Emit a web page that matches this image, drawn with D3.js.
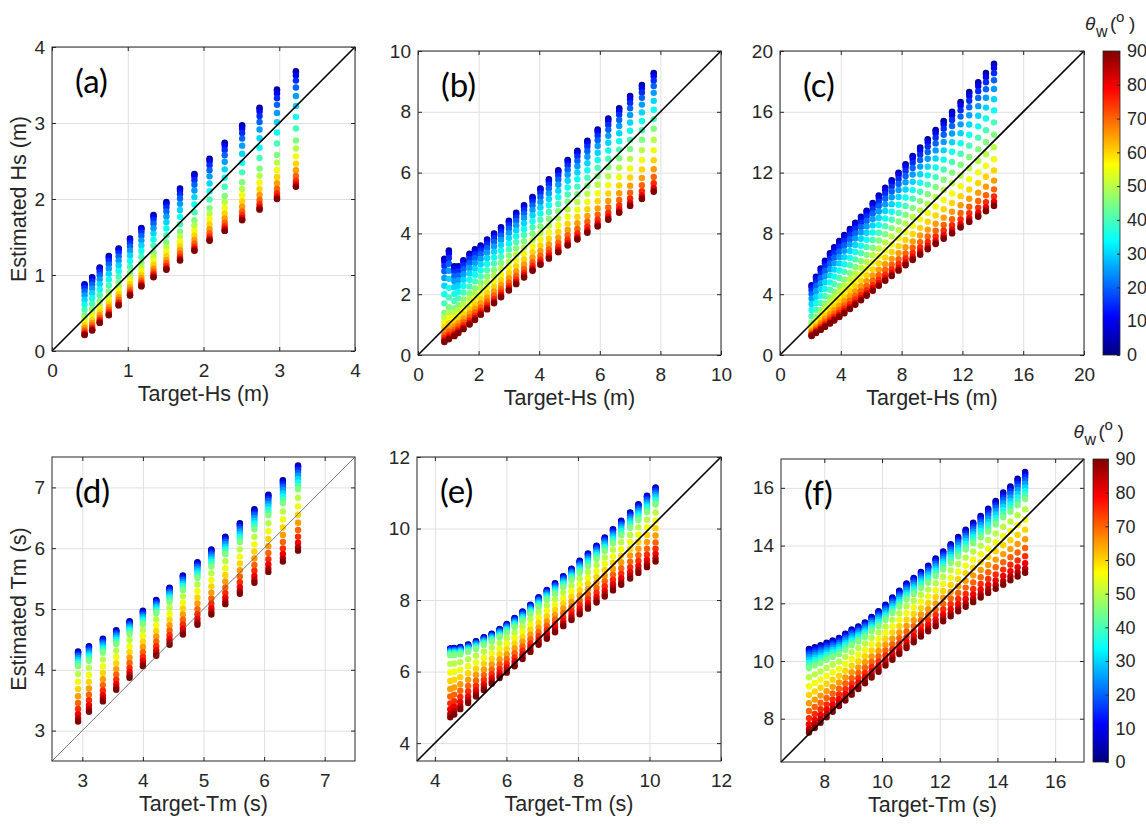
<!DOCTYPE html>
<html>
<head>
<meta charset="utf-8">
<script src="https://cdn.jsdelivr.net/npm/d3@7"></script>
<style>
body { margin: 0; background: #fff; }
</style>
</head>
<body>
<script>
// wave direction levels (deg): one dot per level in every column
const thetaLevels = [0, 5, 10, 15, 20, 25, 30, 35, 40, 45, 50, 55, 60, 65, 70, 75, 80, 85, 90];

// how the dots of one column are spread between top/mid and mid/bottom
const hsUpper = [1, 0.985, 0.94, 0.866, 0.766, 0.643, 0.5, 0.342, 0.174, 0];
const hsLower = [1, 0.826, 0.658, 0.5, 0.357, 0.234, 0.134, 0.06, 0.015, 0];
const tmUpper = [1, 0.96, 0.9, 0.81, 0.7, 0.57, 0.43, 0.29, 0.15, 0];
const tmLower = [1, 0.86, 0.72, 0.585, 0.455, 0.335, 0.225, 0.13, 0.055, 0];

// (a) Hs, small waves: target, estimate at 0 deg (top), 45 deg (mid), 90 deg (bottom)
const aTarget = [0.43, 0.53, 0.63, 0.75, 0.88, 1.03, 1.18, 1.34, 1.51, 1.69, 1.88, 2.08, 2.28, 2.51, 2.74, 2.97, 3.22];
const aTop    = [0.88, 0.97, 1.1, 1.25, 1.35, 1.48, 1.62, 1.79, 1.96, 2.14, 2.33, 2.53, 2.74, 2.97, 3.2, 3.44, 3.68];
const aMid    = [0.47, 0.55, 0.66, 0.78, 0.9, 1.03, 1.16, 1.3, 1.43, 1.57, 1.72, 1.88, 2.04, 2.22, 2.4, 2.58, 2.77];
const aBottom = [0.21, 0.27, 0.37, 0.47, 0.6, 0.73, 0.85, 0.97, 1.07, 1.19, 1.32, 1.45, 1.58, 1.72, 1.86, 2.0, 2.16];

// (b) Hs, medium waves
const bTarget = [0.87, 1.02, 1.2, 1.33, 1.5, 1.7, 1.88, 2.07, 2.28, 2.51, 2.74, 3.0, 3.24, 3.5, 3.78, 4.04, 4.32, 4.63, 4.94, 5.26, 5.59, 5.93, 6.28, 6.64, 7.0, 7.39, 7.78];
const bTop    = [3.17, 3.44, 2.92, 2.92, 3.12, 3.33, 3.48, 3.6, 3.8, 4.0, 4.2, 4.42, 4.68, 4.93, 5.2, 5.48, 5.78, 6.08, 6.42, 6.72, 7.05, 7.42, 7.78, 8.12, 8.52, 8.88, 9.28];
const bMid    = [1.39, 1.57, 1.54, 1.64, 1.83, 2.03, 2.2, 2.37, 2.58, 2.8, 3.03, 3.27, 3.51, 3.74, 3.99, 4.23, 4.48, 4.73, 5.04, 5.29, 5.57, 5.89, 6.18, 6.47, 6.78, 7.08, 7.44];
const bBottom = [0.43, 0.52, 0.62, 0.72, 0.85, 1.0, 1.15, 1.32, 1.5, 1.7, 1.9, 2.12, 2.33, 2.55, 2.77, 2.97, 3.17, 3.38, 3.6, 3.8, 4.02, 4.23, 4.45, 4.68, 4.9, 5.13, 5.37];

// (c) Hs, large waves
const cTarget = [2.08, 2.37, 2.68, 2.96, 3.29, 3.57, 3.9, 4.23, 4.6, 4.95, 5.33, 5.7, 6.1, 6.5, 6.92, 7.35, 7.8, 8.26, 8.73, 9.22, 9.72, 10.24, 10.77, 11.32, 11.88, 12.45, 13.04, 13.55, 14.08];
const cTop    = [4.6, 5.15, 5.7, 6.2, 6.7, 7.1, 7.5, 7.9, 8.3, 8.7, 9.1, 9.5, 10.0, 10.5, 11.0, 11.5, 12.0, 12.55, 13.1, 13.65, 14.2, 14.8, 15.4, 16.0, 16.65, 17.3, 17.95, 18.55, 19.17];
const cMid    = [2.12, 2.52, 2.95, 3.37, 3.78, 4.15, 4.55, 4.96, 5.4, 5.78, 6.19, 6.59, 7.05, 7.53, 7.94, 8.35, 8.78, 9.23, 9.68, 10.13, 10.58, 11.05, 11.53, 12.0, 12.52, 13.03, 13.53, 14.0, 14.49];
const cBottom = [1.25, 1.45, 1.65, 1.85, 2.07, 2.27, 2.5, 2.75, 3.02, 3.3, 3.6, 3.9, 4.22, 4.55, 4.88, 5.2, 5.55, 5.9, 6.25, 6.6, 6.95, 7.3, 7.65, 8.0, 8.38, 8.75, 9.1, 9.45, 9.8];

// (d) Tm, small waves
const dTarget = [2.93, 3.11, 3.34, 3.56, 3.78, 4.0, 4.22, 4.44, 4.66, 4.9, 5.13, 5.36, 5.6, 5.84, 6.07, 6.31, 6.56];
const dTop    = [4.3, 4.39, 4.51, 4.65, 4.8, 4.97, 5.15, 5.35, 5.55, 5.77, 5.98, 6.19, 6.41, 6.64, 6.88, 7.12, 7.36];
const dMid    = [4.06, 4.15, 4.28, 4.42, 4.59, 4.75, 4.93, 5.12, 5.31, 5.51, 5.7, 5.9, 6.1, 6.31, 6.54, 6.74, 6.97];
const dBottom = [3.15, 3.31, 3.48, 3.67, 3.87, 4.06, 4.23, 4.41, 4.58, 4.74, 4.91, 5.08, 5.25, 5.43, 5.61, 5.78, 5.96];

// (e) Tm, medium waves
const eTarget = [4.43, 4.54, 4.71, 4.93, 5.15, 5.37, 5.59, 5.81, 6.01, 6.23, 6.45, 6.67, 6.9, 7.13, 7.36, 7.59, 7.82, 8.05, 8.28, 8.52, 8.75, 8.98, 9.21, 9.46, 9.69, 9.93, 10.17];
const eTop    = [6.65, 6.66, 6.69, 6.76, 6.85, 6.96, 7.06, 7.19, 7.33, 7.5, 7.68, 7.87, 8.08, 8.28, 8.47, 8.67, 8.88, 9.1, 9.3, 9.52, 9.75, 9.98, 10.22, 10.45, 10.68, 10.92, 11.15];
const eMid    = [6.46, 6.46, 6.48, 6.55, 6.63, 6.74, 6.84, 6.96, 7.09, 7.24, 7.41, 7.61, 7.8, 8.0, 8.17, 8.36, 8.56, 8.76, 8.95, 9.15, 9.37, 9.59, 9.81, 10.02, 10.24, 10.46, 10.67];
const eBottom = [4.72, 4.8, 4.95, 5.12, 5.3, 5.48, 5.66, 5.82, 5.97, 6.15, 6.35, 6.55, 6.75, 6.92, 7.1, 7.27, 7.44, 7.6, 7.76, 7.93, 8.1, 8.27, 8.43, 8.6, 8.76, 8.92, 9.08];

// (f) Tm, large waves
const fTarget = [7.47, 7.67, 7.87, 8.08, 8.29, 8.51, 8.73, 8.95, 9.18, 9.41, 9.64, 9.88, 10.12, 10.36, 10.6, 10.85, 11.1, 11.35, 11.6, 11.86, 12.12, 12.38, 12.64, 12.9, 13.16, 13.42, 13.68, 13.94, 14.2, 14.45, 14.7, 14.96];
const fTop    = [10.42, 10.48, 10.55, 10.63, 10.71, 10.8, 10.95, 11.09, 11.2, 11.34, 11.53, 11.73, 11.95, 12.2, 12.44, 12.69, 12.88, 13.09, 13.3, 13.55, 13.8, 14.05, 14.3, 14.55, 14.79, 15.03, 15.28, 15.55, 15.84, 16.05, 16.32, 16.55];
const fMid    = [9.75, 9.84, 9.93, 10.04, 10.14, 10.23, 10.39, 10.55, 10.68, 10.83, 11.03, 11.21, 11.42, 11.66, 11.89, 12.13, 12.32, 12.53, 12.71, 12.94, 13.17, 13.4, 13.63, 13.86, 14.08, 14.29, 14.49, 14.73, 14.98, 15.17, 15.4, 15.61];
const fBottom = [7.52, 7.68, 7.86, 8.05, 8.24, 8.44, 8.63, 8.83, 9.03, 9.23, 9.43, 9.63, 9.84, 10.04, 10.24, 10.45, 10.65, 10.85, 11.03, 11.2, 11.38, 11.55, 11.72, 11.88, 12.04, 12.2, 12.36, 12.5, 12.64, 12.8, 12.93, 13.06];

// tick labels
const ticksA = [0, 1, 2, 3, 4];
const ticksB = [0, 2, 4, 6, 8, 10];
const ticksC = [0, 4, 8, 12, 16, 20];
const ticksD = [3, 4, 5, 6, 7];
const ticksE = [4, 6, 8, 10, 12];
const ticksF = [8, 10, 12, 14, 16];
const cbTicks = [0, 10, 20, 30, 40, 50, 60, 70, 80, 90];

const width = 1146;
const height = 824;
const font = "'Liberation Sans', Arial, sans-serif";
const ink = '#262626';
const plain = (d) => String(d);

const svg = d3.select('body').append('svg')
    .attr('width', width).attr('height', height)
    .style('font-family', font);

// MATLAB jet colormap
const jet = d3.scaleLinear()
    .domain([0, 11.25, 33.75, 56.25, 78.75, 90])
    .range(['#000080', '#0000ff', '#00ffff', '#ffff00', '#ff0000', '#800000'])
    .clamp(true);

const panels = [
  { target: aTarget, top: aTop, mid: aMid, bottom: aBottom, upper: hsUpper, lower: hsLower,
    dom: [0, 4], ticks: ticksA, x0: 52, x1: 355, y0: 47, y1: 351, letter: '(a)',
    xTitle: 'Target-Hs (m)', yTitle: 'Estimated Hs (m)', thin: false },
  { target: bTarget, top: bTop, mid: bMid, bottom: bBottom, upper: hsUpper, lower: hsLower,
    dom: [0, 10], ticks: ticksB, x0: 418, x1: 721, y0: 51, y1: 355, letter: '(b)',
    xTitle: 'Target-Hs (m)', yTitle: null, thin: false },
  { target: cTarget, top: cTop, mid: cMid, bottom: cBottom, upper: hsUpper, lower: hsLower,
    dom: [0, 20], ticks: ticksC, x0: 780, x1: 1084, y0: 51, y1: 355, letter: '(c)',
    xTitle: 'Target-Hs (m)', yTitle: null, thin: false },
  { target: dTarget, top: dTop, mid: dMid, bottom: dBottom, upper: tmUpper, lower: tmLower,
    dom: [2.5, 7.5], ticks: ticksD, x0: 52, x1: 355, y0: 457, y1: 761, letter: '(d)',
    xTitle: 'Target-Tm (s)', yTitle: 'Estimated Tm (s)', thin: true },
  { target: eTarget, top: eTop, mid: eMid, bottom: eBottom, upper: tmUpper, lower: tmLower,
    dom: [3.5, 12], ticks: ticksE, x0: 417, x1: 721, y0: 457, y1: 761, letter: '(e)',
    xTitle: 'Target-Tm (s)', yTitle: null, thin: false },
  { target: fTarget, top: fTop, mid: fMid, bottom: fBottom, upper: tmUpper, lower: tmLower,
    dom: [6.5, 17], ticks: ticksF, x0: 781, x1: 1084, y0: 459, y1: 762, letter: '(f)',
    xTitle: 'Target-Tm (s)', yTitle: null, thin: false }
];

// one dot per (column, direction)
function columnDots(p) {
  const dots = [];
  p.target.forEach((tx, i) => {
    thetaLevels.forEach((th, k) => {
      const est = k <= 9
        ? p.mid[i] + (p.top[i] - p.mid[i]) * p.upper[k]
        : p.bottom[i] + (p.mid[i] - p.bottom[i]) * p.lower[k - 9];
      dots.push({ tx, est, th });
    });
  });
  return dots;
}

function styleAxis(sel, size) {
  sel.attr('font-family', font).attr('font-size', size);
  sel.select('.domain').remove();
  sel.selectAll('line').attr('stroke', ink);
  sel.selectAll('text').attr('fill', ink);
}

panels.forEach((p) => {
  const g = svg.append('g');
  const xScale = d3.scaleLinear().domain(p.dom).range([p.x0, p.x1]);
  const yScale = d3.scaleLinear().domain(p.dom).range([p.y1, p.y0]);
  const w = p.x1 - p.x0, h = p.y1 - p.y0;

  // grid
  const gx = g.append('g').attr('transform', `translate(0,${p.y1})`)
      .call(d3.axisBottom(xScale).tickValues(p.ticks).tickSize(-h).tickFormat(''));
  const gy = g.append('g').attr('transform', `translate(${p.x0},0)`)
      .call(d3.axisLeft(yScale).tickValues(p.ticks).tickSize(-w).tickFormat(''));
  [gx, gy].forEach((s) => {
    s.select('.domain').remove();
    s.selectAll('line').attr('stroke', '#e0e0e0').attr('stroke-width', 1);
  });

  // dots
  const clipId = 'clip' + p.letter.replace(/\W/g, '');
  g.append('clipPath').attr('id', clipId).append('rect')
      .attr('x', p.x0).attr('y', p.y0).attr('width', w).attr('height', h);
  g.append('g').attr('clip-path', `url(#${clipId})`)
    .selectAll('circle').data(columnDots(p)).enter().append('circle')
      .attr('cx', (d) => xScale(d.tx))
      .attr('cy', (d) => yScale(d.est))
      .attr('r', 3.2)
      .attr('fill', (d) => jet(d.th));

  // 1:1 line
  g.append('line')
      .attr('x1', xScale(p.dom[0])).attr('y1', yScale(p.dom[0]))
      .attr('x2', xScale(p.dom[1])).attr('y2', yScale(p.dom[1]))
      .attr('stroke', p.thin ? '#555' : '#000')
      .attr('stroke-width', p.thin ? 0.8 : 1.6);

  // box
  g.append('rect').attr('x', p.x0).attr('y', p.y0).attr('width', w).attr('height', h)
      .attr('fill', 'none').attr('stroke', ink).attr('stroke-width', 1);

  // axes with inward ticks on all four sides
  g.append('g').attr('transform', `translate(0,${p.y1})`)
      .call(d3.axisBottom(xScale).tickValues(p.ticks).tickFormat(plain)
        .tickSizeInner(-4).tickSizeOuter(0).tickPadding(12.5))
      .call(styleAxis, 19);
  g.append('g').attr('transform', `translate(${p.x0},0)`)
      .call(d3.axisLeft(yScale).tickValues(p.ticks).tickFormat(plain)
        .tickSizeInner(-4).tickSizeOuter(0).tickPadding(7))
      .call(styleAxis, 19);
  g.append('g').attr('transform', `translate(0,${p.y0})`)
      .call(d3.axisTop(xScale).tickValues(p.ticks).tickSizeInner(-4).tickSizeOuter(0).tickFormat(''))
      .call(styleAxis, 19);
  g.append('g').attr('transform', `translate(${p.x1},0)`)
      .call(d3.axisRight(yScale).tickValues(p.ticks).tickSizeInner(-4).tickSizeOuter(0).tickFormat(''))
      .call(styleAxis, 19);

  // panel letter
  g.append('text').attr('x', p.x0 + 23).attr('y', p.y0 + 46)
      .attr('font-family', "Lato, 'Open Sans', sans-serif").attr('font-size', 33)
      .attr('fill', '#000').text(p.letter);

  // titles
  g.append('text').attr('x', (p.x0 + p.x1) / 2).attr('y', p.y1 + 50)
      .attr('text-anchor', 'middle').attr('font-size', 21.5).attr('fill', ink)
      .text(p.xTitle);
  if (p.yTitle) {
    g.append('text')
        .attr('transform', `translate(26,${(p.y0 + p.y1) / 2}) rotate(-90)`)
        .attr('text-anchor', 'middle').attr('font-size', 21.5).attr('fill', ink)
        .text(p.yTitle);
  }
});

// colour bars
const defs = svg.append('defs');
const grad = defs.append('linearGradient').attr('id', 'jetGrad')
    .attr('x1', 0).attr('y1', 1).attr('x2', 0).attr('y2', 0);
jet.domain().forEach((v, i) => {
  grad.append('stop').attr('offset', v / 90).attr('stop-color', jet.range()[i]);
});

const bars = [
  { x: 1103, w: 17, y0: 51, y1: 355 },
  { x: 1093, w: 15.5, y0: 459, y1: 762 }
];

bars.forEach((b) => {
  const cScale = d3.scaleLinear().domain([0, 90]).range([b.y1, b.y0]);
  svg.append('rect').attr('x', b.x).attr('y', b.y0).attr('width', b.w).attr('height', b.y1 - b.y0)
      .attr('fill', 'url(#jetGrad)').attr('stroke', ink).attr('stroke-width', 0.8);
  svg.append('g').attr('transform', `translate(${b.x + b.w},0)`)
      .call(d3.axisRight(cScale).tickValues(cbTicks).tickFormat(plain)
        .tickSizeInner(-3).tickSizeOuter(0).tickPadding(7))
      .call(styleAxis, 18);

  // theta_w (deg) label
  const lx = b.x + b.w - 35;
  const ly = b.y0 - 21;
  const t = svg.append('text').attr('y', ly).attr('fill', ink).attr('font-size', 19);
  t.append('tspan').attr('x', lx).attr('font-style', 'italic').text('θ');
  t.append('tspan').attr('x', lx + 11).attr('dy', 7).attr('font-size', 16).text('w');
  t.append('tspan').attr('x', lx + 25).attr('dy', -7).text('(');
  t.append('tspan').attr('x', lx + 31).attr('dy', -8).attr('font-size', 15).text('o');
  t.append('tspan').attr('x', lx + 44).attr('dy', 8).text(')');
});
</script>
</body>
</html>
